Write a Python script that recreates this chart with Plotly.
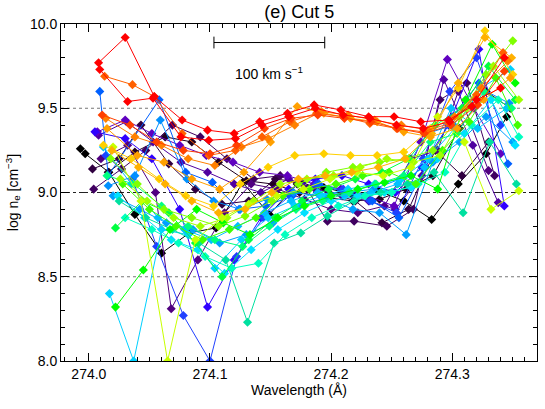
import plotly.graph_objects as go

# wavelength (A) and log density for each curve along the cut
colors = ["#000000", "#200020", "#300040", "#400060", "#500080", "#5000a0", "#6000c0",
          "#3000ff", "#2040ff", "#0060ff", "#0090ff", "#00a0ff", "#00c0ff", "#00d0ff",
          "#00e0ff", "#00e0a0", "#00ffc0", "#00ff80", "#00ff40", "#00ff00", "#40ff00",
          "#80ff00", "#a0ff00", "#c8ff00", "#ffd000", "#ffb000", "#ffa000", "#ff8000",
          "#ff6000", "#ff4000", "#ff0000", "#ff0000"]

wl = [
    [273.993, 273.997, 274.0165, 274.038, 274.060, 274.083, 274.105, 274.127, 274.149, 274.172, 274.194, 274.217, 274.239, 274.260, 274.283, 274.305, 274.328, 274.345],
    [274.016, 274.038, 274.063, 274.085, 274.107, 274.130, 274.152, 274.174, 274.196, 274.218, 274.240, 274.262, 274.284, 274.306, 274.328, 274.348],
    [274.003, 274.025, 274.043, 274.066, 274.088, 274.110, 274.132, 274.154, 274.176, 274.198, 274.220, 274.242, 274.264, 274.286, 274.308, 274.330],
    [274.004, 274.027, 274.047, 274.069, 274.092, 274.114, 274.136, 274.158, 274.180, 274.197, 274.219, 274.246, 274.268, 274.290, 274.312, 274.335],
    [274.010, 274.032, 274.055, 274.068, 274.090, 274.112, 274.134, 274.156, 274.178, 274.200, 274.222, 274.244, 274.266, 274.288, 274.305, 274.330],
    [274.008, 274.031, 274.053, 274.076, 274.098, 274.120, 274.142, 274.165, 274.187, 274.209, 274.231, 274.253, 274.275, 274.293, 274.317, 274.338],
    [274.007, 274.030, 274.052, 274.075, 274.097, 274.119, 274.141, 274.164, 274.186, 274.208, 274.230, 274.252, 274.274, 274.296, 274.318, 274.340],
    [274.005, 274.030, 274.052, 274.075, 274.098, 274.120, 274.142, 274.165, 274.187, 274.209, 274.231, 274.253, 274.275, 274.297, 274.322, 274.343],
    [274.014, 274.036, 274.056, 274.078, 274.100, 274.122, 274.144, 274.166, 274.188, 274.210, 274.232, 274.254, 274.276, 274.298, 274.320, 274.340],
    [274.009, 274.016, 274.058, 274.080, 274.102, 274.124, 274.146, 274.168, 274.190, 274.212, 274.234, 274.256, 274.278, 274.300, 274.322, 274.346],
    [274.016, 274.038, 274.059, 274.081, 274.103, 274.125, 274.147, 274.169, 274.191, 274.213, 274.235, 274.257, 274.279, 274.301, 274.323, 274.347],
    [274.020, 274.042, 274.064, 274.086, 274.108, 274.130, 274.152, 274.174, 274.196, 274.218, 274.240, 274.262, 274.284, 274.306, 274.328, 274.350],
    [274.012, 274.035, 274.057, 274.079, 274.101, 274.123, 274.145, 274.167, 274.189, 274.211, 274.233, 274.255, 274.277, 274.299, 274.321, 274.345],
    [274.017, 274.037, 274.060, 274.082, 274.104, 274.126, 274.148, 274.170, 274.192, 274.214, 274.236, 274.258, 274.280, 274.302, 274.324, 274.348],
    [274.024, 274.046, 274.068, 274.090, 274.112, 274.134, 274.156, 274.178, 274.200, 274.222, 274.244, 274.266, 274.288, 274.310, 274.332, 274.352],
    [274.025, 274.047, 274.069, 274.091, 274.113, 274.131, 274.153, 274.175, 274.197, 274.219, 274.241, 274.263, 274.285, 274.309, 274.331, 274.353],
    [274.030, 274.052, 274.074, 274.096, 274.118, 274.140, 274.162, 274.184, 274.206, 274.228, 274.250, 274.272, 274.294, 274.316, 274.338, 274.355],
    [274.015, 274.037, 274.060, 274.082, 274.104, 274.127, 274.149, 274.171, 274.193, 274.215, 274.237, 274.260, 274.282, 274.304, 274.326, 274.349],
    [274.022, 274.044, 274.066, 274.088, 274.110, 274.132, 274.154, 274.176, 274.198, 274.220, 274.242, 274.264, 274.286, 274.308, 274.330, 274.352],
    [274.022, 274.045, 274.067, 274.089, 274.111, 274.133, 274.156, 274.178, 274.200, 274.222, 274.244, 274.266, 274.288, 274.311, 274.333, 274.352],
    [274.028, 274.050, 274.072, 274.094, 274.116, 274.138, 274.160, 274.182, 274.204, 274.226, 274.248, 274.270, 274.292, 274.314, 274.336, 274.354],
    [274.018, 274.040, 274.062, 274.085, 274.107, 274.129, 274.151, 274.173, 274.196, 274.218, 274.240, 274.262, 274.284, 274.306, 274.328, 274.350],
    [274.026, 274.048, 274.070, 274.092, 274.114, 274.136, 274.158, 274.180, 274.202, 274.224, 274.246, 274.268, 274.290, 274.312, 274.334, 274.355],
    [274.020, 274.043, 274.065, 274.088, 274.110, 274.132, 274.155, 274.177, 274.199, 274.221, 274.243, 274.266, 274.288, 274.310, 274.332, 274.355],
    [274.012, 274.035, 274.058, 274.080, 274.103, 274.125, 274.148, 274.170, 274.194, 274.216, 274.238, 274.260, 274.282, 274.305, 274.327, 274.350],
    [274.019, 274.041, 274.063, 274.085, 274.107, 274.129, 274.151, 274.173, 274.195, 274.217, 274.239, 274.261, 274.283, 274.305, 274.327, 274.349],
    [274.015, 274.040, 274.062, 274.085, 274.108, 274.128, 274.150, 274.172, 274.194, 274.216, 274.238, 274.260, 274.282, 274.304, 274.326, 274.348],
    [274.014, 274.038, 274.060, 274.082, 274.104, 274.126, 274.148, 274.170, 274.192, 274.214, 274.236, 274.258, 274.280, 274.302, 274.324, 274.346],
    [274.013, 274.036, 274.054, 274.077, 274.099, 274.121, 274.143, 274.166, 274.188, 274.210, 274.232, 274.254, 274.276, 274.298, 274.320, 274.342],
    [274.011, 274.034, 274.056, 274.078, 274.100, 274.122, 274.145, 274.167, 274.189, 274.211, 274.233, 274.255, 274.277, 274.299, 274.321, 274.343],
    [274.009, 274.032, 274.053, 274.076, 274.099, 274.121, 274.143, 274.165, 274.187, 274.210, 274.232, 274.254, 274.276, 274.298, 274.320, 274.340],
    [274.008, 274.030, 274.054, 274.077, 274.098, 274.120, 274.141, 274.164, 274.186, 274.208, 274.231, 274.252, 274.274, 274.297, 274.316, 274.343],
]

logne = [
    [9.26, 9.23, 9.12, 8.87, 8.64, 8.76, 8.79, 9.06, 8.87, 9.05, 9.03, 8.99, 9.01, 8.95, 8.84, 9.05, 9.23, 9.45],
    [9.12, 9.24, 9.33, 9.30, 9.18, 9.07, 9.05, 9.00, 8.97, 8.95, 8.96, 9.02, 9.10, 9.38, 9.60, 9.50],
    [9.14, 9.20, 9.40, 9.17, 9.02, 8.93, 8.95, 9.08, 9.06, 9.00, 8.95, 8.82, 8.90, 9.25, 9.10, 9.30],
    [9.02, 9.14, 9.25, 9.40, 9.33, 9.20, 9.08, 9.10, 9.02, 8.83, 8.83, 8.80, 8.90, 9.55, 9.65, 9.10],
    [9.20, 9.28, 9.00, 8.31, 8.60, 8.88, 9.05, 9.02, 8.96, 8.90, 8.88, 8.92, 9.20, 9.25, 9.60, 9.13],
    [9.34, 9.42, 9.30, 9.18, 9.12, 9.05, 9.00, 9.08, 9.02, 8.98, 8.95, 8.90, 9.10, 9.67, 9.28, 8.94],
    [9.36, 9.43, 9.35, 9.28, 9.22, 9.18, 9.12, 9.10, 9.05, 9.02, 8.98, 8.92, 9.30, 9.79, 9.50, 9.23],
    [9.36, 9.32, 9.20, 8.90, 8.32, 8.60, 8.85, 9.02, 9.08, 9.10, 9.05, 9.00, 9.15, 9.40, 9.85, 8.92],
    [9.22, 9.08, 8.68, 8.27, 8.00, 8.62, 8.85, 8.98, 9.05, 9.02, 8.95, 8.88, 9.20, 9.60, 9.80, 9.40],
    [9.60, 9.10, 9.55, 9.12, 9.06, 8.90, 8.92, 8.98, 9.05, 9.00, 8.95, 8.85, 9.15, 9.45, 9.65, 9.17],
    [9.04, 9.10, 9.43, 9.08, 8.95, 8.90, 8.96, 9.00, 8.98, 9.00, 9.02, 9.08, 9.35, 9.40, 9.62, 9.53],
    [8.98, 8.90, 8.82, 8.78, 8.70, 8.75, 8.82, 8.92, 8.97, 8.90, 8.88, 8.75, 9.18, 9.30, 9.45, 9.30],
    [9.27, 9.05, 8.85, 8.78, 8.72, 8.80, 8.88, 8.95, 9.00, 8.98, 9.00, 9.05, 9.15, 9.50, 9.38, 9.50],
    [8.40, 8.00, 8.78, 8.75, 8.55, 8.72, 8.85, 8.92, 8.98, 9.02, 9.05, 9.08, 9.20, 9.38, 9.62, 9.73],
    [8.98, 8.85, 8.72, 8.66, 8.52, 8.66, 8.78, 8.88, 8.95, 8.98, 9.00, 9.03, 9.20, 9.35, 9.55, 9.28],
    [8.95, 8.85, 8.78, 8.70, 8.60, 8.23, 8.70, 8.76, 8.86, 8.95, 9.00, 9.05, 9.12, 8.88, 9.30, 9.05],
    [8.85, 8.78, 8.70, 8.62, 8.55, 8.58, 8.75, 8.85, 8.92, 8.98, 9.00, 9.05, 9.12, 9.40, 9.55, 9.33],
    [9.10, 9.05, 8.92, 8.80, 8.72, 8.68, 8.80, 8.90, 8.95, 9.00, 9.05, 9.10, 9.30, 9.35, 9.60, 9.50],
    [8.79, 8.95, 8.88, 8.70, 8.50, 8.72, 8.85, 8.95, 9.02, 9.08, 9.12, 9.20, 9.40, 9.50, 9.75, 9.55],
    [8.32, 8.54, 8.78, 8.90, 8.82, 8.75, 8.85, 8.92, 8.98, 9.02, 9.06, 9.10, 9.02, 9.55, 9.88, 9.65],
    [9.05, 8.90, 8.80, 8.72, 8.78, 8.85, 8.98, 9.02, 9.05, 9.10, 9.12, 9.05, 9.25, 9.42, 9.68, 9.40],
    [9.20, 9.05, 8.90, 8.85, 8.80, 8.86, 8.95, 9.05, 9.12, 9.15, 9.18, 9.20, 9.25, 9.45, 9.70, 9.90],
    [9.08, 8.95, 8.85, 8.80, 8.85, 8.95, 9.05, 9.08, 9.10, 9.15, 9.20, 9.18, 9.22, 9.50, 9.75, 9.55],
    [9.27, 8.95, 8.00, 8.72, 8.85, 8.93, 8.98, 9.02, 9.08, 9.12, 9.10, 9.15, 9.45, 9.30, 8.90, 9.01],
    [9.28, 9.20, 9.08, 8.98, 8.92, 9.05, 9.15, 9.22, 9.23, 9.22, 9.22, 9.24, 9.38, 9.62, 9.96, 9.70],
    [9.25, 9.15, 9.05, 8.95, 8.88, 8.90, 9.00, 9.08, 9.10, 9.12, 9.15, 9.20, 9.35, 9.65, 9.92, 9.80],
    [9.38, 9.22, 9.18, 9.08, 9.02, 9.12, 9.30, 9.51, 9.47, 9.44, 9.42, 9.36, 9.33, 9.38, 9.55, 9.68],
    [9.44, 9.33, 9.28, 9.20, 9.16, 9.27, 9.32, 9.40, 9.48, 9.46, 9.43, 9.40, 9.37, 9.45, 9.62, 9.78],
    [9.69, 9.64, 9.57, 9.35, 9.22, 9.25, 9.33, 9.42, 9.47, 9.45, 9.41, 9.38, 9.36, 9.41, 9.58, 9.83],
    [9.46, 9.40, 9.30, 9.25, 9.23, 9.28, 9.38, 9.44, 9.46, 9.44, 9.42, 9.38, 9.35, 9.40, 9.52, 9.72],
    [9.73, 9.54, 9.56, 9.33, 9.31, 9.32, 9.40, 9.45, 9.50, 9.46, 9.44, 9.40, 9.38, 9.42, 9.55, 9.62],
    [9.77, 9.92, 9.57, 9.43, 9.37, 9.35, 9.42, 9.47, 9.52, 9.49, 9.45, 9.45, 9.42, 9.43, 9.51, 9.80],
]

fig = go.Figure()

for x, y, c in zip(wl, logne, colors):
    fig.add_trace(go.Scatter(x=x, y=y, mode="lines+markers",
                             line=dict(color=c, width=1),
                             marker=dict(symbol="diamond", size=7, color=c),
                             showlegend=False))

# dotted reference levels
for lev, col, dash in [(9.5, "#777777", "dot"), (9.0, "#222222", "dashdot"), (8.5, "#777777", "dot")]:
    fig.add_shape(type="line", xref="paper", x0=0, x1=1, yref="y", y0=lev, y1=lev,
                  line=dict(color=col, width=1, dash=dash), layer="below")

# 100 km/s velocity scale bar
c_kms = 299792.458
bar_mid = 274.149
half = 274.2 * 100 / c_kms / 2
bar_y = 9.89
fig.add_shape(type="line", x0=bar_mid - half, x1=bar_mid + half, y0=bar_y, y1=bar_y,
              line=dict(color="black", width=1))
for xe in (bar_mid - half, bar_mid + half):
    fig.add_shape(type="line", x0=xe, x1=xe, y0=bar_y - 0.035, y1=bar_y + 0.035,
                  line=dict(color="black", width=1))
fig.add_annotation(x=bar_mid, y=9.71, text="100 km s<sup>\u22121</sup>", showarrow=False,
                   font=dict(size=14, color="black"))

axis_common = dict(showline=True, linecolor="black", linewidth=1, mirror="allticks",
                   ticks="inside", tickcolor="black", showgrid=False, zeroline=False,
                   automargin=False, tickfont=dict(size=14, color="black"))

fig.update_xaxes(range=[273.977, 274.370], dtick=0.1, tick0=274.0, ticklen=8, tickformat=".1f",
                 minor=dict(dtick=0.01, ticklen=4, ticks="inside", tickcolor="black"),
                 title=dict(text="Wavelength (\u00c5)", font=dict(size=14, color="black"), standoff=2),
                 **axis_common)
fig.update_yaxes(range=[8.0, 10.0], dtick=0.5, ticklen=8, tickformat=".1f",
                 minor=dict(dtick=0.1, ticklen=4, ticks="inside", tickcolor="black"),
                 title=dict(text="log n<sub>e</sub> [cm<sup>\u22123</sup>]", font=dict(size=14, color="black"), standoff=8),
                 **axis_common)

fig.update_layout(
    width=545, height=409,
    margin=dict(l=61, r=8, t=24, b=48),
    paper_bgcolor="white", plot_bgcolor="white",
    font=dict(family="Liberation Sans, Arial, sans-serif", color="black"),
    title=dict(text="(e) Cut 5", x=0.549, xanchor="center", y=0.972, yanchor="middle",
               font=dict(size=18, color="black")),
)

# page body margin off so the figure sits at the window origin
fig.write_html("out.html", config={"displayModeBar": False},
               post_script="document.body.style.margin='0';")
